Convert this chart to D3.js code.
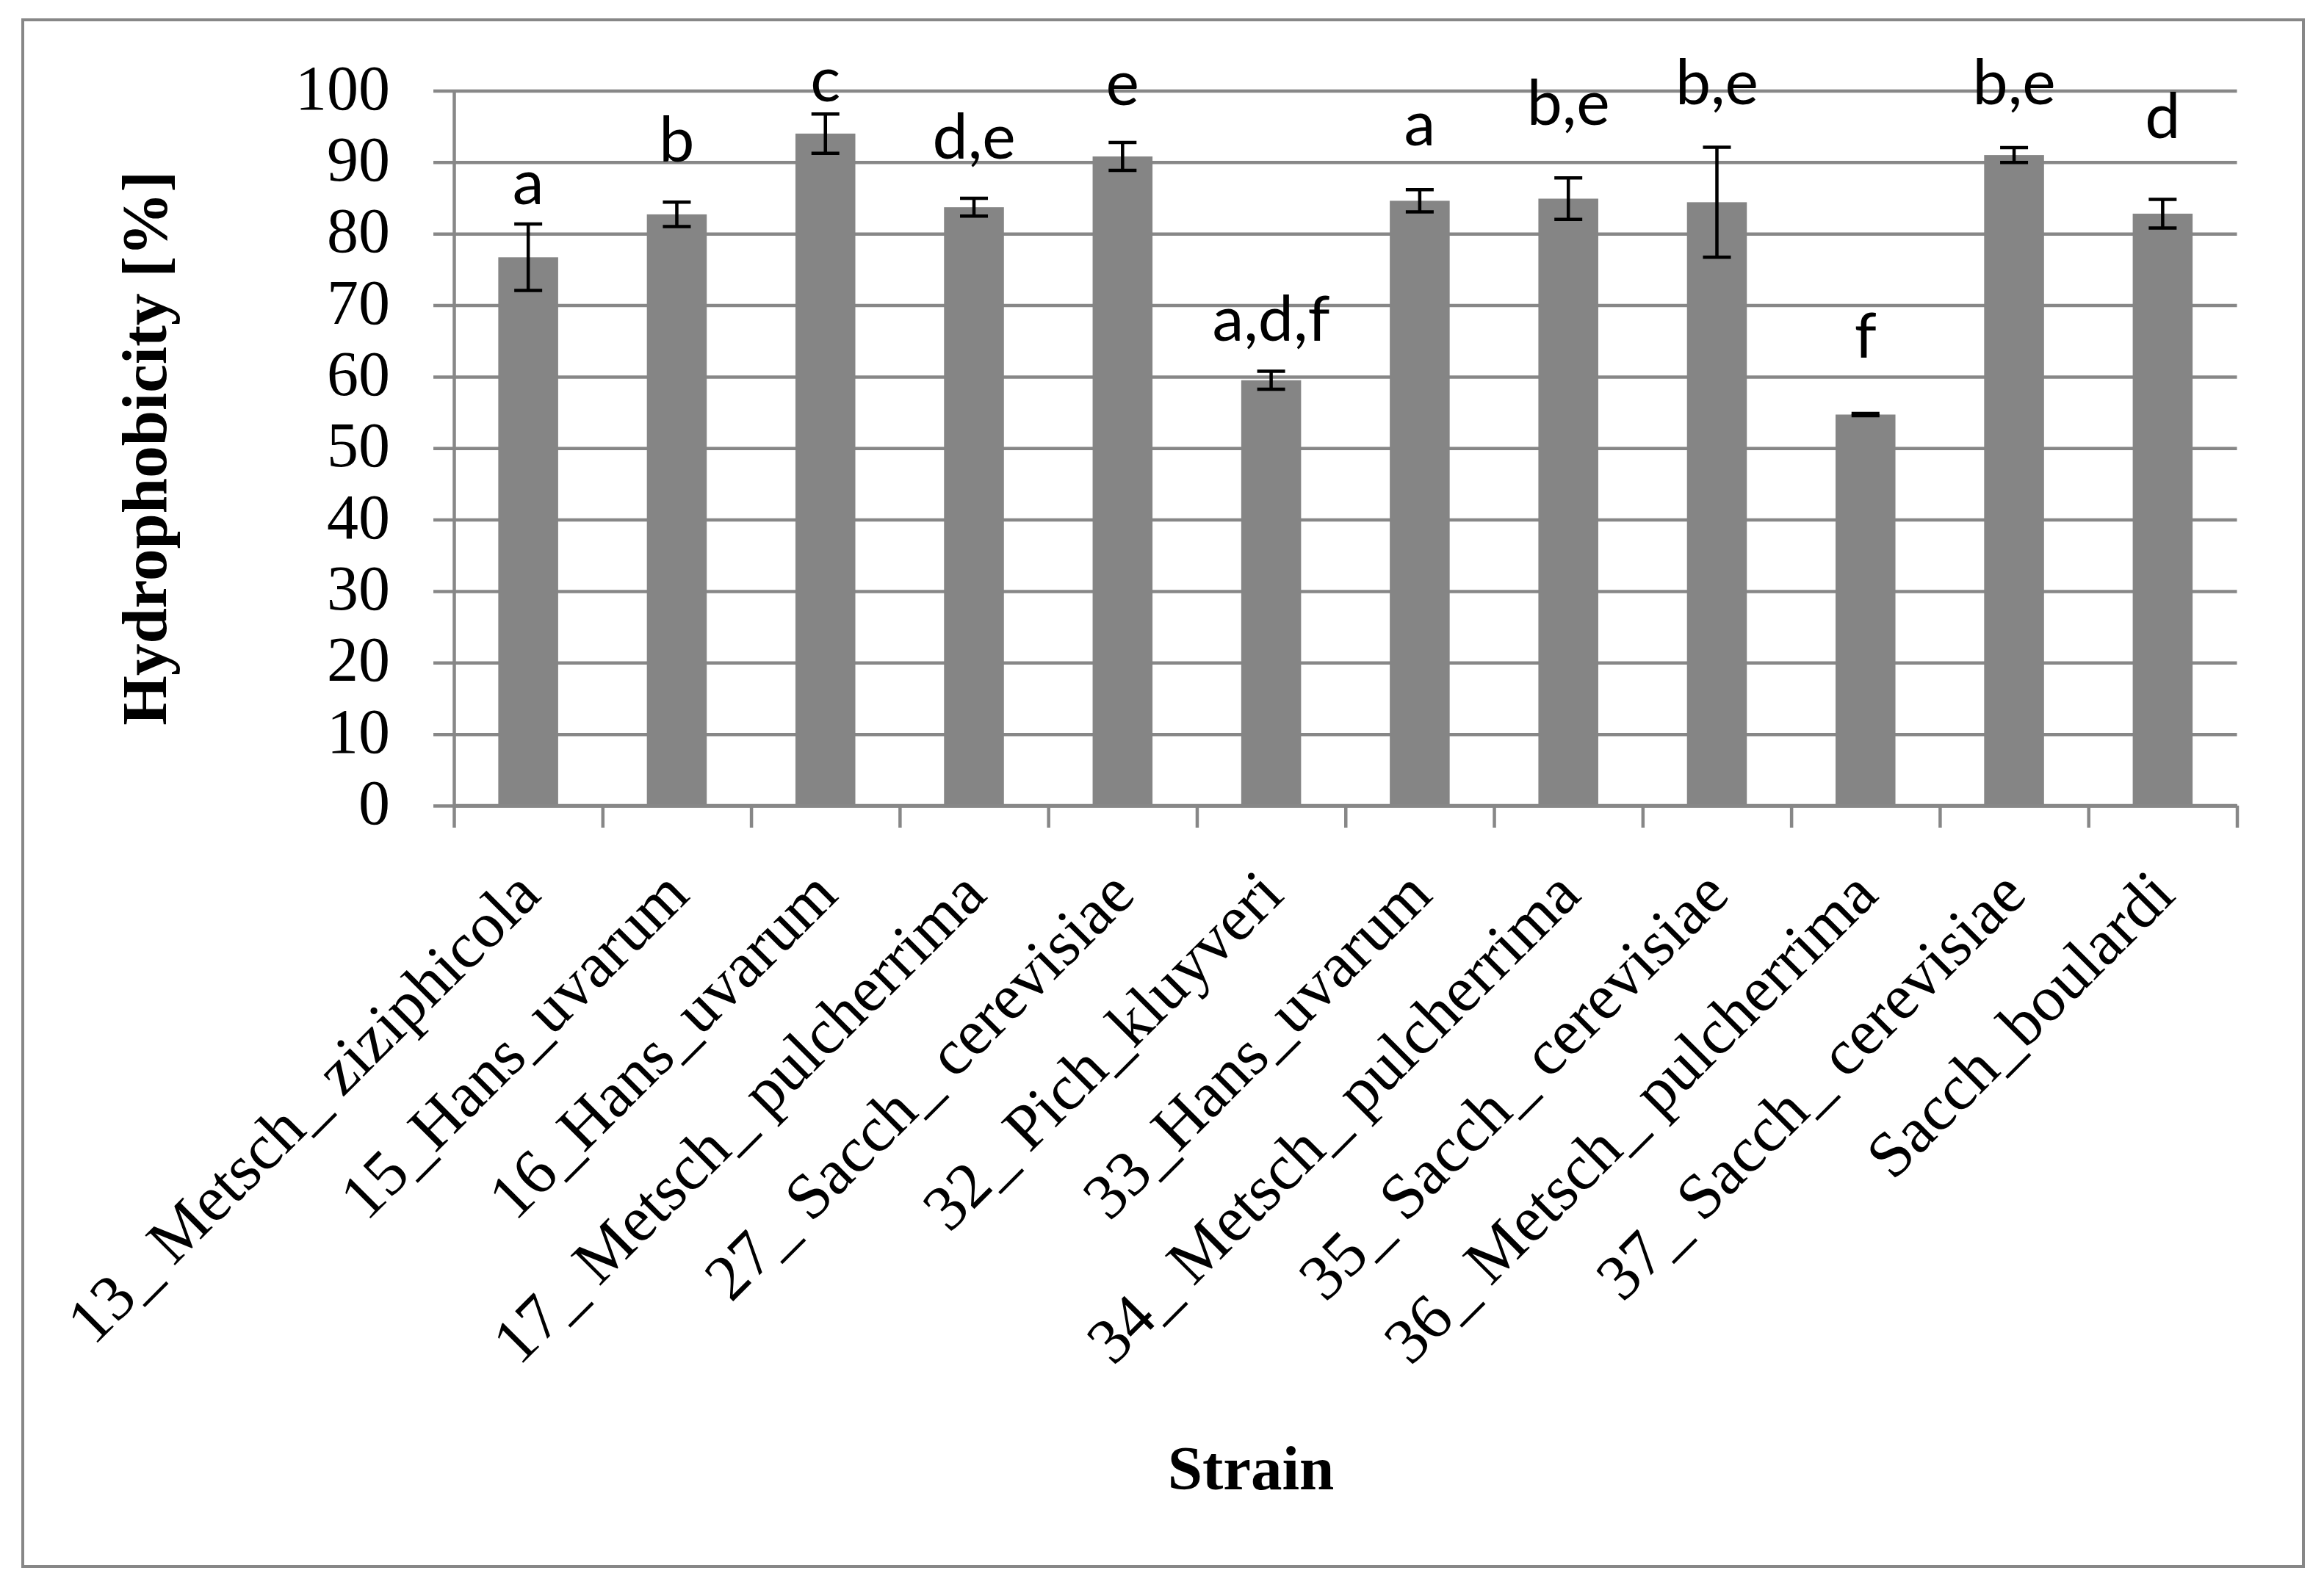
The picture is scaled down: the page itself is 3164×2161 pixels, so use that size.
<!DOCTYPE html>
<html>
<head>
<meta charset="utf-8">
<script src="https://cdn.jsdelivr.net/npm/d3@7"></script>
<style>
  html, body { margin: 0; padding: 0; background: #ffffff; }
  svg { display: block; }
</style>
</head>
<body>
<script>
// ---------- data ----------
const categories = [
  "13_ Metsch_ ziziphicola",
  "15_Hans_uvarum",
  "16_Hans_uvarum",
  "17_ Metsch_ pulcherrima",
  "27_ Sacch_ cerevisiae",
  "32_ Pich_kluyveri",
  "33_Hans_uvarum",
  "34_ Metsch_ pulcherrima",
  "35_ Sacch_ cerevisiae",
  "36_ Metsch_ pulcherrima",
  "37_ Sacch_ cerevisiae",
  "Sacch_boulardi"
];
const values = [76.7, 82.7, 94.0, 83.7, 90.8, 59.5, 84.6, 84.9, 84.4, 54.7, 91.0, 82.8];
const errors = [4.65, 1.7, 2.75, 1.25, 1.95, 1.25, 1.55, 2.9, 7.7, 0.15, 1.05, 2.0];
const groupLetters = ["a", "b", "c", "d,e", "e", "a,d,f", "a", "b,e", "b,e", "f", "b,e", "d"];
const letterLevel = [84.1, 90.1, 98.5, 90.5, 98.0, 65.0, 92.3, 95.2, 98.1, 62.7, 98.1, 93.4];
const yTicks = [0, 10, 20, 30, 40, 50, 60, 70, 80, 90, 100];
const yTitle = "Hydrophobicity [%]";
const xTitle = "Strain";

// ---------- layout ----------
const W = 3164, H = 2161;
const plotLeft = 618, plotRight = 3045.5, plotTop = 123.5, plotBottom = 1097;
const gridColor = "#878787";
const barColor = "#858585";
const lineW = 4.5;

const svg = d3.select("body").append("svg")
  .attr("width", W).attr("height", H)
  .attr("viewBox", `0 0 ${W} ${H}`);

svg.append("rect").attr("width", W).attr("height", H).attr("fill", "#fff");

// outer frame
svg.append("rect")
  .attr("x", 31).attr("y", 27)
  .attr("width", 3136 - 31).attr("height", 2133 - 27)
  .attr("fill", "none").attr("stroke", gridColor).attr("stroke-width", 4);

const x = d3.scaleBand()
  .domain(categories)
  .range([plotLeft, plotRight])
  .paddingInner(0.597)
  .paddingOuter(0.2985);

const xIdx = d3.scaleLinear().domain([0, categories.length]).range([plotLeft, plotRight]);

const y = d3.scaleLinear().domain([0, 100]).range([plotBottom, plotTop]);

// gridlines + y tick labels
const gridLeft = 590;
const yAxis = svg.append("g")
  .attr("transform", `translate(${gridLeft},0)`)
  .call(d3.axisLeft(y).tickValues(yTicks).tickSize(-(plotRight - gridLeft)).tickPadding(59).tickFormat(d3.format("d")));
yAxis.select(".domain").remove();
yAxis.selectAll(".tick line").attr("stroke", gridColor).attr("stroke-width", lineW);
yAxis.selectAll(".tick text")
  .attr("fill", "#000")
  .attr("font-family", "'Liberation Serif', 'Times New Roman', serif")
  .attr("font-size", 86)
  .attr("dy", null)
  .attr("y", -4.5)
  .attr("dominant-baseline", "central");

// y axis line
const yLine = svg.append("g")
  .attr("transform", `translate(${plotLeft},0)`)
  .call(d3.axisLeft(y).tickValues([]).tickSizeOuter(0));
yLine.select(".domain").attr("stroke", gridColor).attr("stroke-width", lineW);

// x axis line with boundary ticks
const xAxis = svg.append("g")
  .attr("transform", `translate(0,${plotBottom})`)
  .call(d3.axisBottom(xIdx).tickValues(d3.range(categories.length + 1)).tickSize(30).tickSizeOuter(0).tickFormat(""));
xAxis.select(".domain").attr("stroke", gridColor).attr("stroke-width", lineW);
xAxis.selectAll(".tick line").attr("stroke", gridColor).attr("stroke-width", lineW);

// bars
svg.append("g").selectAll("rect")
  .data(categories)
  .join("rect")
  .attr("x", d => x(d))
  .attr("width", x.bandwidth())
  .attr("y", (d, i) => y(values[i]))
  .attr("height", (d, i) => y(0) - y(values[i]))
  .attr("fill", barColor);

// redraw x axis line on top of bars bottom
svg.append("line")
  .attr("x1", plotLeft).attr("x2", plotRight)
  .attr("y1", plotBottom).attr("y2", plotBottom)
  .attr("stroke", gridColor).attr("stroke-width", lineW);

// error bars
const capHalf = 19;
const eb = svg.append("g").attr("stroke", "#000").attr("stroke-width", lineW).attr("fill", "none");
categories.forEach((c, i) => {
  const cx = x(c) + x.bandwidth() / 2;
  const hi = y(values[i] + errors[i]);
  const lo = y(values[i] - errors[i]);
  eb.append("line").attr("x1", cx).attr("x2", cx).attr("y1", hi).attr("y2", lo);
  eb.append("line").attr("x1", cx - capHalf).attr("x2", cx + capHalf).attr("y1", hi).attr("y2", hi);
  eb.append("line").attr("x1", cx - capHalf).attr("x2", cx + capHalf).attr("y1", lo).attr("y2", lo);
});

// group letters
svg.append("g").selectAll("text")
  .data(categories)
  .join("text")
  .attr("x", d => x(d) + x.bandwidth() / 2)
  .attr("y", (d, i) => y(letterLevel[i]))
  .attr("text-anchor", "middle")
  .attr("font-family", "Lato, 'Open Sans', sans-serif")
  .attr("font-size", 86)
  .attr("fill", "#000")
  .text((d, i) => groupLetters[i]);

// x category labels (rotated -45)
svg.append("g").selectAll("text")
  .data(categories)
  .join("text")
  .attr("transform", d => `translate(${x(d) + x.bandwidth() / 2 + 20},${plotBottom + 125}) rotate(-45)`)
  .attr("text-anchor", "end")
  .attr("font-family", "'Liberation Serif', 'Times New Roman', serif")
  .attr("font-size", 88)
  .attr("fill", "#000")
  .text(d => d);

// axis titles
svg.append("text")
  .attr("transform", `translate(226,${(plotTop + plotBottom) / 2}) rotate(-90)`)
  .attr("text-anchor", "middle")
  .attr("font-family", "'Liberation Serif', 'Times New Roman', serif")
  .attr("font-weight", "bold")
  .attr("font-size", 87)
  .attr("fill", "#000")
  .text(yTitle);

svg.append("text")
  .attr("x", 1703).attr("y", 2028)
  .attr("text-anchor", "middle")
  .attr("font-family", "'Liberation Serif', 'Times New Roman', serif")
  .attr("font-weight", "bold")
  .attr("font-size", 85)
  .attr("fill", "#000")
  .text(xTitle);
</script>
</body>
</html>
